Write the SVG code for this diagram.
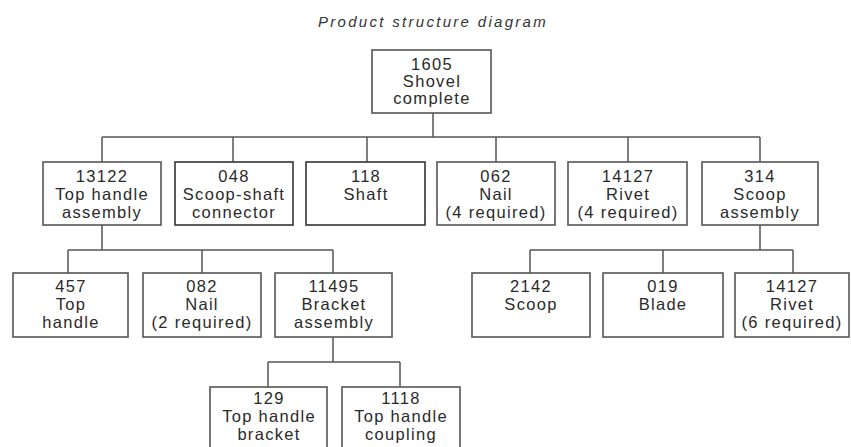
<svg xmlns="http://www.w3.org/2000/svg" width="851" height="447" viewBox="0 0 851 447">
<style>
.bg{fill:#ffffff}
.box{fill:none;stroke:#555;stroke-width:1.6}
.t{font-family:"Liberation Sans",Arial,sans-serif;font-size:16.5px;letter-spacing:1.3px;fill:#2a2a2a;text-anchor:middle}
.title{font-family:"Liberation Sans",Arial,sans-serif;font-size:15px;font-style:italic;letter-spacing:2.3px;fill:#333;text-anchor:middle}
.ln{fill:none;stroke:#555;stroke-width:1.5}
</style>
<rect class="bg" x="0" y="0" width="851" height="447"/>
<text class="title" x="433" y="27">Product structure diagram</text>
<g id="connectors">
<path class="ln" d="M433 113V137M102 137H760M102 137V162M233 137V162M367 137V162M496 137V162M628 137V162M760 137V162"/>
<path class="ln" d="M102 225V250M68 250H333M68 250V273M202 250V273M333 250V273"/>
<path class="ln" d="M760 225V250M530 250H793M530 250V273M663 250V273M793 250V273"/>
<path class="ln" d="M333 337V362M268 362H400M268 362V387M400 362V387"/>
</g>
<g id="n1605"><rect class="box" x="372" y="50" width="119" height="63"/><text class="t" x="432" y="70">1605</text><text class="t" x="432" y="87">Shovel</text><text class="t" x="432" y="104">complete</text></g>
<g id="n13122"><rect class="box" x="43" y="162" width="118" height="63"/><text class="t" x="102" y="182">13122</text><text class="t" x="102" y="200">Top handle</text><text class="t" x="102" y="218">assembly</text></g>
<g id="n048"><rect class="box" x="175" y="162" width="118" height="63" style="stroke:#333"/><text class="t" x="234" y="182">048</text><text class="t" x="234" y="200">Scoop-shaft</text><text class="t" x="234" y="218">connector</text></g>
<g id="n118"><rect class="box" x="306" y="162" width="119" height="63" style="stroke:#333"/><text class="t" x="366" y="182">118</text><text class="t" x="366" y="200">Shaft</text></g>
<g id="n062"><rect class="box" x="437" y="162" width="118" height="63"/><text class="t" x="496" y="182">062</text><text class="t" x="496" y="200">Nail</text><text class="t" x="496" y="218">(4 required)</text></g>
<g id="n14127a"><rect class="box" x="568" y="162" width="119" height="63"/><text class="t" x="628" y="182">14127</text><text class="t" x="628" y="200">Rivet</text><text class="t" x="628" y="218">(4 required)</text></g>
<g id="n314"><rect class="box" x="702" y="162" width="116" height="63"/><text class="t" x="760" y="182">314</text><text class="t" x="760" y="200">Scoop</text><text class="t" x="760" y="218">assembly</text></g>
<g id="n457"><rect class="box" x="13" y="273" width="115" height="64"/><text class="t" x="71" y="292">457</text><text class="t" x="71" y="310">Top</text><text class="t" x="71" y="328">handle</text></g>
<g id="n082"><rect class="box" x="143" y="273" width="118" height="64"/><text class="t" x="202" y="292">082</text><text class="t" x="202" y="310">Nail</text><text class="t" x="202" y="328">(2 required)</text></g>
<g id="n11495"><rect class="box" x="275" y="273" width="117" height="64"/><text class="t" x="334" y="292">11495</text><text class="t" x="334" y="310">Bracket</text><text class="t" x="334" y="328">assembly</text></g>
<g id="n2142"><rect class="box" x="472" y="273" width="118" height="64"/><text class="t" x="531" y="292">2142</text><text class="t" x="531" y="310">Scoop</text></g>
<g id="n019"><rect class="box" x="603" y="273" width="120" height="64"/><text class="t" x="663" y="292">019</text><text class="t" x="663" y="310">Blade</text></g>
<g id="n14127b"><rect class="box" x="735" y="273" width="114" height="64"/><text class="t" x="792" y="292">14127</text><text class="t" x="792" y="310">Rivet</text><text class="t" x="792" y="328">(6 required)</text></g>
<g id="n129"><rect class="box" x="210" y="387" width="117" height="64"/><text class="t" x="269" y="404">129</text><text class="t" x="269" y="422">Top handle</text><text class="t" x="269" y="440">bracket</text></g>
<g id="n1118"><rect class="box" x="342" y="387" width="118" height="64"/><text class="t" x="401" y="404">1118</text><text class="t" x="401" y="422">Top handle</text><text class="t" x="401" y="440">coupling</text></g>
</svg>
